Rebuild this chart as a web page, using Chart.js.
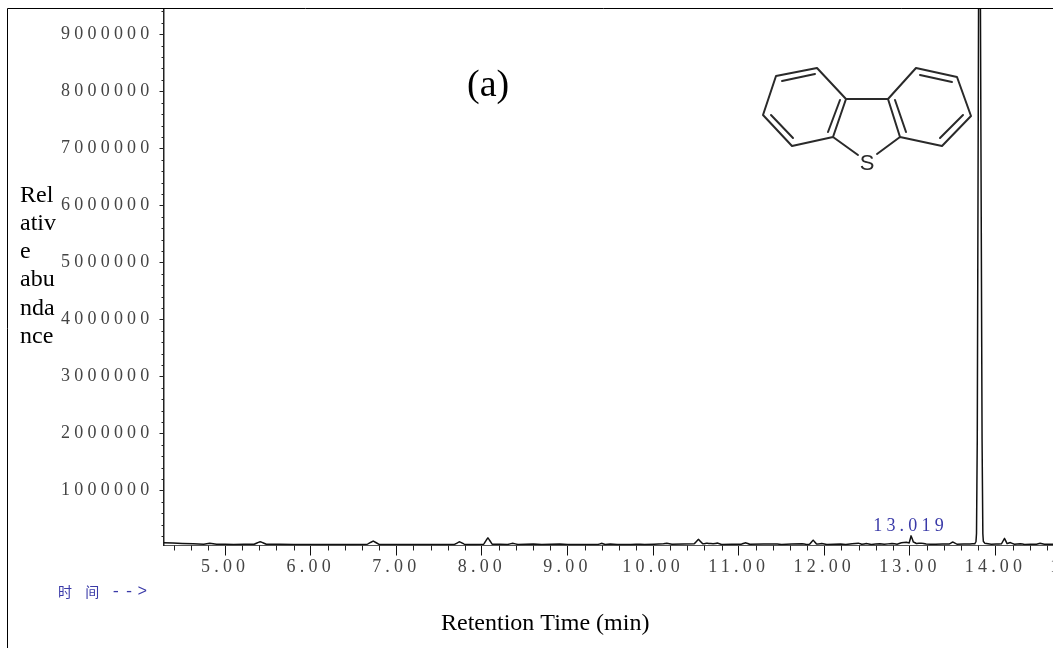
<!DOCTYPE html>
<html lang="zh">

<head>
    <meta charset="UTF-8">
    <title>Retention Time</title>
    <script src="https://cdn.jsdelivr.net/npm/chart.js"></script>
    <style>
        html, body {
            margin: 0;
            width: 1053px;
            height: 648px;
            overflow: hidden;
            background: #fff;
        }
    </style>
</head>

<body>
    <canvas id="tic" width="1200" height="648"></canvas>
    <script>
        const xMajor = [5, 6, 7, 8, 9, 10, 11, 12, 13, 14, 15, 16];
        const xMinor = [4.4, 4.6, 4.8, 5.2, 5.4, 5.6, 5.8, 6.2, 6.4, 6.6, 6.8, 7.2, 7.4, 7.6, 7.8, 8.2, 8.4, 8.6, 8.8, 9.2, 9.4, 9.6, 9.8, 10.2, 10.4, 10.6, 10.8, 11.2, 11.4, 11.6, 11.8, 12.2, 12.4, 12.6, 12.8, 13.2, 13.4, 13.6, 13.8, 14.2, 14.4, 14.6, 14.8, 15.2];
        const yMajor = [1000000, 2000000, 3000000, 4000000, 5000000, 6000000, 7000000, 8000000, 9000000];
        const yMinor = [200000, 400000, 600000, 800000, 1200000, 1400000, 1600000, 1800000, 2200000, 2400000, 2600000, 2800000, 3200000, 3400000, 3600000, 3800000, 4200000, 4400000, 4600000, 4800000, 5200000, 5400000, 5600000, 5800000, 6200000, 6400000, 6600000, 6800000, 7200000, 7400000, 7600000, 7800000, 8200000, 8400000, 8600000, 8800000, 9200000, 9400000];

        const times = [
            4.28, 4.5, 4.75, 4.82, 4.9, 5.1, 5.34, 5.41, 5.48, 5.8, 6.3, 6.66, 6.73, 6.8, 7.2, 7.68, 7.74, 7.8,
            8.02, 8.07, 8.12, 8.3, 8.36, 8.42, 8.6, 8.7, 8.91, 9.0, 9.36, 9.4, 9.44, 9.5, 9.58, 9.68, 9.8, 9.9,
            10.12, 10.16, 10.22, 10.48, 10.53, 10.58, 10.62, 10.65, 10.7, 10.75, 10.8, 11.03, 11.08, 11.13,
            11.45, 11.5, 11.74, 11.79, 11.83, 11.87, 11.91, 11.97, 12.03, 12.19, 12.25, 12.4, 12.44, 12.49, 12.55,
            12.65, 12.7, 12.79, 12.85, 12.9, 12.96, 12.99, 13.015, 13.04, 13.08, 13.13, 13.19, 13.3, 13.46, 13.5, 13.55, 13.7,
            13.76, 13.772, 13.778, 13.787, 13.802, 13.813, 13.824, 13.843, 13.852, 13.858, 13.875, 13.95,
            14.07, 14.105, 14.135, 14.17, 14.22, 14.29, 14.34, 14.48, 14.52, 14.57, 14.8, 15.1, 15.5, 16
        ];
        const abundance = [
            88000, 75000, 62000, 78000, 60000, 58000, 62000, 105000, 62000, 55000, 55000, 60000, 117000, 58000, 54000, 58000, 105000, 56000,
            60000, 175000, 62000, 56000, 78000, 56000, 66000, 55000, 64000, 54000, 56000, 78000, 56000, 64000, 58000, 54000, 62000, 55000,
            70000, 76000, 60000, 68000, 147000, 66000, 78000, 74000, 70000, 80000, 58000, 62000, 88000, 60000,
            66000, 56000, 70000, 58000, 64000, 135000, 62000, 72000, 58000, 66000, 56000, 80000, 60000, 72000, 58000,
            70000, 60000, 74000, 62000, 88000, 95000, 80000, 210000, 100000, 72000, 80000, 64000, 60000, 66000, 100000, 62000, 66000,
            70000, 110000, 250000, 1900000, 9450000, 12000000, 9450000, 1900000, 250000, 110000, 78000, 62000,
            66000, 165000, 72000, 90000, 62000, 70000, 58000, 62000, 78000, 60000, 58000, 66000, 60000, 58000
        ];

        const peakLabelTime = 13.019;
        const peakLabel = '13.019';
        const yTitleLines = ['Rel', 'ativ', 'e', 'abu', 'nda', 'nce'];
        const xTitle = 'Retention Time (min)';
        const panelLabel = '(a)';

        const tickFamily = '"Liberation Serif"';
        const tickGray = '#444444';
        const labelBlue = '#3a3aa8';

        // minor ticks, frame and the text chart.js cannot place on its own
        const extras = {
            id: 'extras',
            beforeDraw(chart) {
                chart.ctx.letterSpacing = '4.2px';
            },
            afterDatasetsDraw(chart) {
                const ctx = chart.ctx;
                const sx = chart.scales.x;
                const sy = chart.scales.y;
                ctx.save();
                ctx.strokeStyle = '#222';
                ctx.lineWidth = 1;
                ctx.beginPath();
                xMinor.forEach(function (v) {
                    const px = Math.round(sx.getPixelForValue(v)) + 0.5;
                    ctx.moveTo(px, sy.bottom);
                    ctx.lineTo(px, sy.bottom + 5);
                });
                yMinor.forEach(function (v) {
                    const py = Math.round(sy.getPixelForValue(v)) + 0.5;
                    ctx.moveTo(sx.left, py);
                    ctx.lineTo(sx.left - 2, py);
                });
                ctx.stroke();

                ctx.strokeStyle = '#000';
                ctx.beginPath();
                ctx.moveTo(7.5, 648);
                ctx.lineTo(7.5, 8.5);
                ctx.lineTo(1200, 8.5);
                ctx.stroke();

                // blue peak label keeps the tick spacing
                ctx.font = '18px ' + tickFamily;
                ctx.fillStyle = labelBlue;
                ctx.textAlign = 'center';
                ctx.textBaseline = 'middle';
                ctx.fillText(peakLabel, sx.getPixelForValue(peakLabelTime) - 1, 526);

                ctx.textAlign = 'left';
                ctx.font = '16px "Liberation Mono"';
                ctx.letterSpacing = '3.6px';
                ctx.fillText('-->', 111, 592);
                ctx.font = '14px "Noto Sans CJK SC"';
                ctx.letterSpacing = '5px';
                ctx.fillText('时 间', 58, 592);

                ctx.letterSpacing = '0px';
                ctx.fillStyle = '#000';
                ctx.font = '24px "Liberation Serif"';
                yTitleLines.forEach(function (line, i) {
                    ctx.fillText(line, 20, 195.5 + i * 28.2);
                });
                ctx.fillText(xTitle, 441, 624);
                ctx.font = '38px "Liberation Serif"';
                ctx.fillText(panelLabel, 467, 86);

                drawMolecule(ctx);
                ctx.restore();
            }
        };

        // dibenzothiophene inset, picture coordinates
        function drawMolecule(ctx) {
            const bonds = [
                [776, 76, 817, 68], [817, 68, 846, 99], [846, 99, 833, 137], [833, 137, 792, 146], [792, 146, 763, 115], [763, 115, 776, 76],
                [916, 68, 957, 77], [957, 77, 971, 116], [971, 116, 942, 146], [942, 146, 900, 137], [900, 137, 888, 99], [888, 99, 916, 68],
                [846, 99, 888, 99], [833, 137, 858, 155], [900, 137, 877, 154],
                [782, 81, 815, 74], [771, 115, 793, 138], [840, 100, 828, 132],
                [920, 75, 952, 82], [963, 115, 940, 138], [895, 100, 906, 132]
            ];
            ctx.strokeStyle = '#2a2a2a';
            ctx.lineWidth = 2;
            ctx.lineCap = 'round';
            ctx.beginPath();
            bonds.forEach(function (b) {
                ctx.moveTo(b[0], b[1]);
                ctx.lineTo(b[2], b[3]);
            });
            ctx.stroke();
            ctx.fillStyle = '#2a2a2a';
            ctx.font = '22px "Liberation Sans"';
            ctx.textAlign = 'center';
            ctx.fillText('S', 867, 164);
        }

        const ctxTic = document.getElementById('tic').getContext('2d');
        const ticChart = new Chart(ctxTic, {
            type: 'line',
            data: {
                datasets: [{
                    data: times.map(function (t, i) { return { x: t, y: abundance[i] }; }),
                    borderColor: '#111',
                    borderWidth: 1.5,
                    pointRadius: 0,
                    // tension 0 makes chart.js merge points that share a pixel column
                    tension: 0.01
                }]
            },
            plugins: [extras],
            options: {
                responsive: false,
                animation: false,
                layout: { padding: { top: 8.5, right: 33.3, left: 0, bottom: 0 } },
                plugins: { legend: { display: false }, tooltip: { enabled: false } },
                scales: {
                    x: {
                        type: 'linear',
                        min: 4.28,
                        max: 16,
                        afterBuildTicks: function (scale) {
                            scale.ticks = xMajor.map(function (v) { return { value: v }; });
                        },
                        afterFit: function (scale) {
                            scale.height = 102.5;
                            scale.paddingLeft = 0;
                            scale.paddingRight = 0;
                        },
                        border: { color: '#555', width: 1 },
                        grid: { drawOnChartArea: false, tickLength: 10, tickColor: '#111', tickWidth: 1 },
                        ticks: {
                            autoSkip: false,
                            maxRotation: 0,
                            padding: 1,
                            color: tickGray,
                            font: { family: tickFamily, size: 18 },
                            callback: function (v) { return Number(v).toFixed(2); }
                        }
                    },
                    y: {
                        min: 38500,
                        max: 9451000,
                        afterBuildTicks: function (scale) {
                            scale.ticks = yMajor.map(function (v) { return { value: v }; });
                        },
                        afterFit: function (scale) {
                            scale.width = 163.5;
                            scale.paddingTop = 0;
                            scale.paddingBottom = 0;
                        },
                        border: { color: '#222', width: 1.5 },
                        grid: { drawOnChartArea: false, tickLength: 4, tickColor: '#222', tickWidth: 1 },
                        ticks: {
                            autoSkip: false,
                            padding: 6,
                            color: tickGray,
                            font: { family: tickFamily, size: 18 },
                            callback: function (v) { return String(v); }
                        }
                    }
                }
            }
        });
    </script>
</body>

</html>
